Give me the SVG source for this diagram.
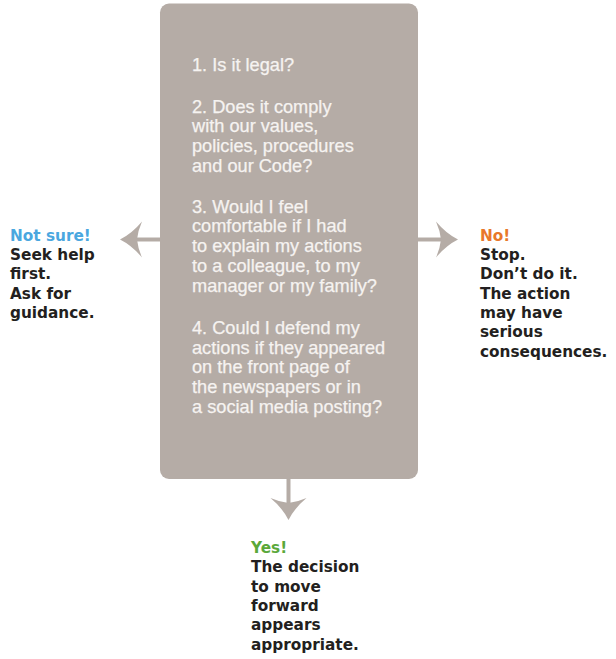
<svg xmlns="http://www.w3.org/2000/svg" width="616" height="659" viewBox="0 0 616 659">
<style>
.q{font-family:"Liberation Sans",Arial,sans-serif;font-size:18.2px;fill:#f6f3f1;stroke:#f6f3f1;stroke-width:0.25}
.a{font-family:"DejaVu Sans","Liberation Sans",sans-serif;font-weight:bold;font-size:15.3px;fill:#231f20}
.blue{fill:#4aa7df}.orange{fill:#e8782a}.green{fill:#5aa83a}
.shaft{stroke:#b5aca6;stroke-width:4;fill:none}
.head{fill:#b5aca6}
</style>
<defs>
<path id="ah" class="head" d="M0,0 Q-12,-6 -22,-18 Q-18,-9 -17,0 Q-18,9 -22,18 Q-12,6 0,0 Z"/>
</defs>
<rect width="616" height="659" fill="#ffffff"/>
<g id="connectors">
<line class="shaft" x1="160" y1="239.5" x2="134" y2="239.5"/>
<use href="#ah" transform="translate(120,239.5) rotate(180)"/>
<line class="shaft" x1="418" y1="239.5" x2="444" y2="239.5"/>
<use href="#ah" transform="translate(458,239.5)"/>
<line class="shaft" x1="288.5" y1="479" x2="288.5" y2="506"/>
<use href="#ah" transform="translate(288.5,520) rotate(90)"/>
</g>
<g id="questions">
<rect x="160" y="3.5" width="258" height="475.5" rx="9" fill="#b5aca6"/>
<text class="q" x="192" y="71">1. Is it legal?</text>
<text class="q" x="192" y="112.7">2. Does it comply</text>
<text class="q" x="192" y="132.4">with our values,</text>
<text class="q" x="192" y="152.1">policies, procedures</text>
<text class="q" x="192" y="171.8">and our Code?</text>
<text class="q" x="192" y="212.7">3. Would I feel</text>
<text class="q" x="192" y="232.4">comfortable if I had</text>
<text class="q" x="192" y="252.1">to explain my actions</text>
<text class="q" x="192" y="271.8">to a colleague, to my</text>
<text class="q" x="192" y="291.5">manager or my family?</text>
<text class="q" x="192" y="334">4. Could I defend my</text>
<text class="q" x="192" y="353.7">actions if they appeared</text>
<text class="q" x="192" y="373.4">on the front page of</text>
<text class="q" x="192" y="393.1">the newspapers or in</text>
<text class="q" x="192" y="412.8">a social media posting?</text>
</g>
<g id="not-sure">
<text class="a blue" x="10" y="240.7">Not sure!</text>
<text class="a" x="10" y="260">Seek help</text>
<text class="a" x="10" y="279.3">first.</text>
<text class="a" x="10" y="298.6">Ask for</text>
<text class="a" x="10" y="317.9">guidance.</text>
</g>
<g id="no">
<text class="a orange" x="480" y="240.7">No!</text>
<text class="a" x="480" y="260">Stop.</text>
<text class="a" x="480" y="279.3">Don’t do it.</text>
<text class="a" x="480" y="298.6">The action</text>
<text class="a" x="480" y="317.9">may have</text>
<text class="a" x="480" y="337.2">serious</text>
<text class="a" x="480" y="356.5">consequences.</text>
</g>
<g id="yes">
<text class="a green" x="251" y="553">Yes!</text>
<text class="a" x="251" y="572.3">The decision</text>
<text class="a" x="251" y="591.6">to move</text>
<text class="a" x="251" y="610.9">forward</text>
<text class="a" x="251" y="630.2">appears</text>
<text class="a" x="251" y="649.5">appropriate.</text>
</g>
</svg>
